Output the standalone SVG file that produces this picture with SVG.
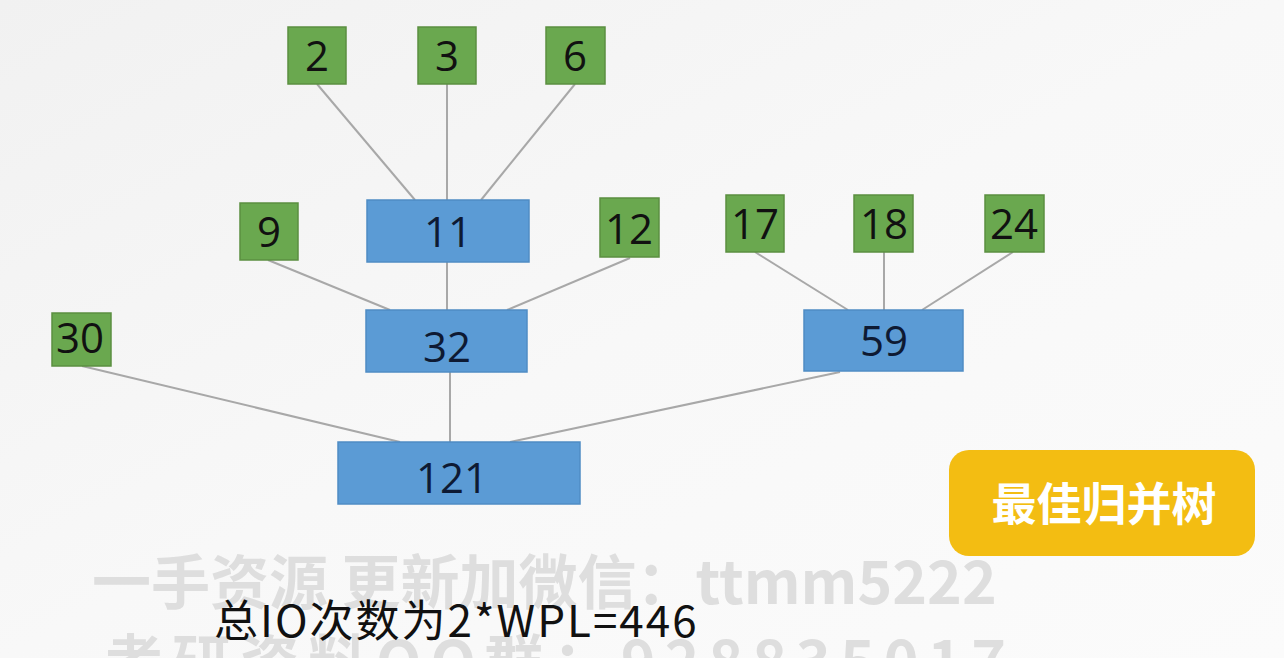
<svg xmlns="http://www.w3.org/2000/svg" width="1284" height="658" viewBox="0 0 1284 658">
<defs>
<linearGradient id="bg" x1="0" y1="0" x2="1" y2="1">
<stop offset="0" stop-color="#f1f1f1"/>
<stop offset="0.5" stop-color="#f8f8f8"/>
<stop offset="1" stop-color="#fbfbfb"/>
</linearGradient>
<style>
.leaf{fill:#6aa84f;stroke:#5b8f40;stroke-width:1.5}
.inner{fill:#5b9bd5;stroke:#4f8cc4;stroke-width:1.5}
.lt{font-family:"Open Sans","Liberation Sans",sans-serif;font-size:42px;fill:#111;text-anchor:middle}
.it{font-family:"Open Sans","Liberation Sans",sans-serif;font-size:42px;fill:#0e1a33;text-anchor:middle}
.edge{stroke:#a8a8a8;stroke-width:2;fill:none}
.wm{font-family:"Noto Sans CJK SC","Liberation Sans",sans-serif;font-weight:bold;font-size:59px;fill:#dedede}
</style>
</defs>
<rect x="0" y="0" width="1284" height="658" fill="url(#bg)"/>
<g id="watermark">
<text class="wm" x="92" y="604">一手资源 更新加微信：ttmm5222</text>
<text class="wm" x="104" y="684" letter-spacing="9">考研资料QQ群：928835017</text>
</g>
<g id="connectors">
<line class="edge" x1="317" y1="84" x2="415" y2="200"/>
<line class="edge" x1="447" y1="84" x2="447" y2="200"/>
<line class="edge" x1="575" y1="84" x2="481" y2="200"/>
<line class="edge" x1="268" y1="260" x2="390" y2="310"/>
<line class="edge" x1="447" y1="262" x2="447" y2="310"/>
<line class="edge" x1="630" y1="258" x2="507" y2="310"/>
<line class="edge" x1="755" y1="252" x2="848" y2="310"/>
<line class="edge" x1="884" y1="252" x2="884" y2="310"/>
<line class="edge" x1="1013" y1="252" x2="922" y2="310"/>
<line class="edge" x1="82" y1="366" x2="400" y2="442"/>
<line class="edge" x1="450" y1="372" x2="450" y2="442"/>
<line class="edge" x1="840" y1="372" x2="510" y2="442"/>
</g>
<g id="n2"><rect class="leaf" x="288" y="27" width="58" height="57"/><text class="lt" x="317" y="71">2</text></g>
<g id="n3"><rect class="leaf" x="418" y="27" width="58" height="57"/><text class="lt" x="447" y="71">3</text></g>
<g id="n6"><rect class="leaf" x="546" y="27" width="59" height="57"/><text class="lt" x="575" y="71">6</text></g>
<g id="n9"><rect class="leaf" x="240" y="203" width="58" height="57"/><text class="lt" x="269" y="247">9</text></g>
<g id="n11"><rect class="inner" x="367" y="200" width="162" height="62"/><text class="it" x="448" y="247">11</text></g>
<g id="n12"><rect class="leaf" x="600" y="198" width="59" height="59"/><text class="lt" x="629" y="244">12</text></g>
<g id="n17"><rect class="leaf" x="726" y="195" width="58" height="57"/><text class="lt" x="755" y="239">17</text></g>
<g id="n18"><rect class="leaf" x="854" y="195" width="59" height="57"/><text class="lt" x="884" y="239">18</text></g>
<g id="n24"><rect class="leaf" x="985" y="195" width="59" height="57"/><text class="lt" x="1014" y="239">24</text></g>
<g id="n30"><rect class="leaf" x="52" y="313" width="59" height="53"/><text class="lt" x="80" y="353">30</text></g>
<g id="n32"><rect class="inner" x="366" y="310" width="161" height="62"/><text class="it" x="447" y="362">32</text></g>
<g id="n59"><rect class="inner" x="804" y="310" width="159" height="61"/><text class="it" x="884" y="356">59</text></g>
<g id="n121"><rect class="inner" x="338" y="442" width="242" height="62"/><text class="it" x="452" y="493">121</text></g>
<g id="label">
<rect x="949" y="450" width="306" height="106" rx="20" fill="#f3bd12"/>
<text x="1104" y="521" font-family="Noto Sans CJK SC,sans-serif" font-weight="bold" font-size="45" fill="#ffffff" text-anchor="middle">最佳归并树</text>
</g>
<g id="caption">
<text x="214" y="637" font-family="Noto Sans CJK SC,sans-serif" font-size="44" letter-spacing="2" fill="#111">总IO次数为2*WPL=446</text>
</g>
</svg>
